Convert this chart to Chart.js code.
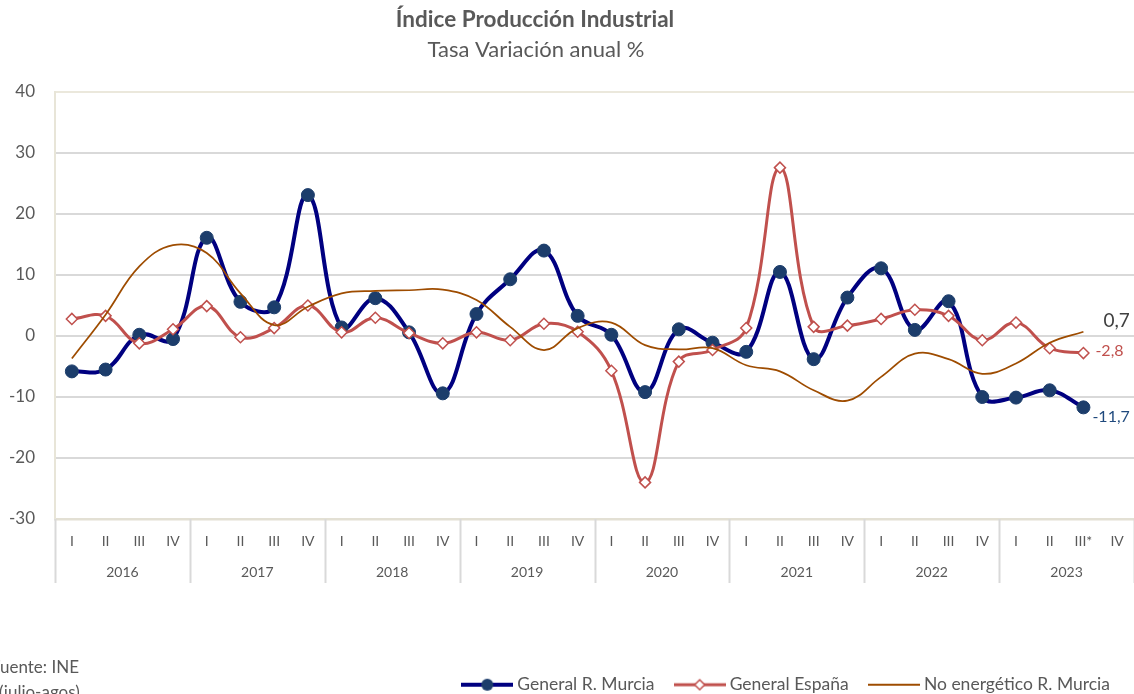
<!DOCTYPE html>
<html lang="es">
<head>
<meta charset="utf-8">
<title>Índice Producción Industrial</title>
<script src="https://cdn.jsdelivr.net/npm/chart.js@4.4.0/dist/chart.umd.min.js"></script>
<style>
  html, body { margin: 0; padding: 0; background: #ffffff; }
</style>
</head>
<body>
<canvas id="chart" width="1134" height="694"></canvas>
<script>
"use strict";

// Quarter labels (2016 I ... 2023 IV), "III*" = provisional (julio-agosto)
const quarterLabels = [
  "I", "II", "III", "IV", "I", "II", "III", "IV",
  "I", "II", "III", "IV", "I", "II", "III", "IV",
  "I", "II", "III", "IV", "I", "II", "III", "IV",
  "I", "II", "III", "IV", "I", "II", "III*", "IV",
];
const yearLabels = ["2016", "2017", "2018", "2019", "2020", "2021", "2022", "2023"];

// Tasa de variación anual (%)
const murcia = [
  -5.8, -5.5, 0.2, -0.5, 16.1, 5.6, 4.7, 23.1,
  1.4, 6.2, 0.6, -9.4, 3.6, 9.3, 14.0, 3.3,
  0.2, -9.2, 1.1, -1.1, -2.6, 10.5, -3.8, 6.3,
  11.1, 1.0, 5.7, -10.0, -10.1, -8.9, -11.7, null,
];
const espana = [
  2.8, 3.3, -1.2, 1.1, 4.9, -0.2, 1.3, 5.0,
  0.6, 3.0, 0.5, -1.2, 0.6, -0.7, 2.0, 0.7,
  -5.7, -24.0, -4.2, -2.3, 1.3, 27.6, 1.5, 1.7,
  2.8, 4.3, 3.3, -0.7, 2.2, -2.0, -2.8, null,
];
const noEnergetico = [
  -3.7, 3.5, 11.4, 14.9, 13.6, 7.0, 1.8, 4.8,
  7.0, 7.4, 7.5, 7.6, 5.9, 1.5, -2.3, 1.3,
  2.2, -1.5, -2.2, -2.0, -4.8, -5.8, -8.9, -10.6,
  -6.7, -2.9, -3.8, -6.2, -4.5, -1.1, 0.7, null,
];

const FONT = "Lato, 'Open Sans', sans-serif";
const TEXT_COLOR = "#595959";
const MURCIA_LINE = "#000080";
const MURCIA_MARKER = "#1c3d6b";
const ESPANA_LINE = "#c0504d";
const NOENERG_LINE = "#9e4c00";

function legendIcon(color, lineWidth, marker) {
  const c = document.createElement("canvas");
  c.width = 52;
  c.height = 16;
  const g = c.getContext("2d");
  g.strokeStyle = color;
  g.lineWidth = lineWidth;
  g.beginPath();
  g.moveTo(0, 8);
  g.lineTo(52, 8);
  g.stroke();
  if (marker === "circle") {
    g.fillStyle = MURCIA_MARKER;
    g.beginPath();
    g.arc(26, 8, 6, 0, Math.PI * 2);
    g.fill();
  } else if (marker === "diamond") {
    g.fillStyle = "#ffffff";
    g.lineWidth = 1.5;
    g.beginPath();
    g.moveTo(26, 3);
    g.lineTo(31, 8);
    g.lineTo(26, 13);
    g.lineTo(21, 8);
    g.closePath();
    g.fill();
    g.stroke();
  }
  return c;
}

const legendIcons = [
  legendIcon(MURCIA_LINE, 4, "circle"),
  legendIcon(ESPANA_LINE, 3, "diamond"),
  legendIcon(NOENERG_LINE, 2, null),
];

function fmt(v) {
  return v.toFixed(1).replace(".", ",");
}

// titles, footnote, two-level category axis and end-of-series labels
const decorations = {
  id: "decorations",
  afterDraw(chart) {
    const { ctx, chartArea } = chart;
    const xScale = chart.scales.x;
    const half = (xScale.getPixelForValue(1) - xScale.getPixelForValue(0)) / 2;

    ctx.save();

    // year separators below the axis
    ctx.strokeStyle = "#d9d9d9";
    ctx.lineWidth = 2;
    for (let k = 0; k <= yearLabels.length; k++) {
      const px = Math.round(xScale.getPixelForValue(k * 4) - half) + 0.5;
      ctx.beginPath();
      ctx.moveTo(px, chartArea.bottom);
      ctx.lineTo(px, 583);
      ctx.stroke();
    }

    // year labels
    ctx.fillStyle = TEXT_COLOR;
    ctx.textAlign = "center";
    ctx.textBaseline = "middle";
    ctx.font = "14px " + FONT;
    yearLabels.forEach((year, k) => {
      const cx = (xScale.getPixelForValue(k * 4) + xScale.getPixelForValue(k * 4 + 3)) / 2;
      ctx.fillText(year, cx, 572);
    });

    // titles
    ctx.font = "bold 22.5px " + FONT;
    ctx.fillText("Índice Producción Industrial", 535, 20);
    ctx.font = "22px " + FONT;
    ctx.fillText("Tasa Variación anual %", 536, 50);

    // footnote (cut by the left edge of the picture)
    ctx.textAlign = "left";
    ctx.textBaseline = "alphabetic";
    ctx.font = "17px " + FONT;
    ctx.fillText("Fuente: INE", -9, 673);
    ctx.fillText("(julio-agos)", -1, 698);

    // data labels on the last value of each series
    const labelStyles = [
      { color: "#1f497d", size: 16, dx: 9, dy: 9 },
      { color: ESPANA_LINE, size: 16, dx: 12, dy: -2 },
      { color: "#404040", size: 19, dx: 20, dy: -11 },
    ];
    ctx.textBaseline = "middle";
    chart.data.datasets.forEach((ds, i) => {
      let last = ds.data.length - 1;
      while (last >= 0 && ds.data[last] === null) last--;
      const pt = chart.getDatasetMeta(i).data[last];
      const st = labelStyles[i];
      ctx.fillStyle = st.color;
      ctx.font = st.size + "px " + FONT;
      ctx.fillText(fmt(ds.data[last]), pt.x + st.dx, pt.y + st.dy);
    });

    ctx.restore();
  },
};

new Chart(document.getElementById("chart"), {
  type: "line",
  data: {
    labels: quarterLabels,
    datasets: [
      {
        label: "General R. Murcia",
        data: murcia,
        borderColor: MURCIA_LINE,
        borderWidth: 4,
        pointRadius: 6.5,
        pointHoverRadius: 6.5,
        pointBackgroundColor: MURCIA_MARKER,
        pointBorderColor: MURCIA_MARKER,
        pointBorderWidth: 1,
        tension: 0.4,
        order: 3,
      },
      {
        label: "General España",
        data: espana,
        borderColor: ESPANA_LINE,
        borderWidth: 3,
        pointStyle: "rectRot",
        pointRadius: 5.5,
        pointHoverRadius: 5.5,
        pointBackgroundColor: "#ffffff",
        pointBorderColor: ESPANA_LINE,
        pointBorderWidth: 1.5,
        tension: 0.4,
        order: 2,
      },
      {
        label: "No energético R. Murcia",
        data: noEnergetico,
        borderColor: NOENERG_LINE,
        borderWidth: 1.75,
        pointRadius: 0,
        pointHoverRadius: 0,
        tension: 0.4,
        order: 1,
      },
    ],
  },
  options: {
    responsive: false,
    animation: false,
    devicePixelRatio: 1,
    layout: {
      autoPadding: false,
      padding: { top: 92, right: 0, bottom: 0, left: 0 },
    },
    scales: {
      x: {
        offset: true,
        // tick marks are hidden but keep the labels away from the axis line
        grid: { display: false, drawTicks: true, tickLength: 14 },
        border: { display: true, color: "#e3e0d4", width: 2.5 },
        ticks: {
          color: TEXT_COLOR,
          font: { family: FONT, size: 14 },
          padding: 0,
          autoSkip: false,
          maxRotation: 0,
        },
        afterFit(scale) {
          scale.height = 133;
        },
      },
      y: {
        min: -30,
        max: 40,
        ticks: {
          stepSize: 10,
          color: TEXT_COLOR,
          font: { family: FONT, size: 17 },
          padding: 20,
        },
        grid: {
          drawTicks: false,
          lineWidth: 2,
          color: (ctx) => (ctx.tick && ctx.tick.value === 40 ? "#ebe8dc" : "#d9d9d9"),
        },
        border: { display: true, color: "#e8e5d8", width: 2 },
        afterFit(scale) {
          scale.width = 55;
        },
      },
    },
    plugins: {
      title: { display: false },
      tooltip: { enabled: false },
      legend: {
        position: "bottom",
        align: "end",
        maxHeight: 42,
        labels: {
          usePointStyle: true,
          pointStyleWidth: 42.5,
          padding: 24,
          color: TEXT_COLOR,
          font: { family: FONT, size: 17.5 },
          sort: (a, b) => a.datasetIndex - b.datasetIndex,
          generateLabels(chart) {
            const items = Chart.defaults.plugins.legend.labels.generateLabels(chart);
            items.forEach((item) => {
              item.pointStyle = legendIcons[item.datasetIndex];
            });
            return items;
          },
        },
      },
    },
  },
  plugins: [decorations],
});
</script>
</body>
</html>
